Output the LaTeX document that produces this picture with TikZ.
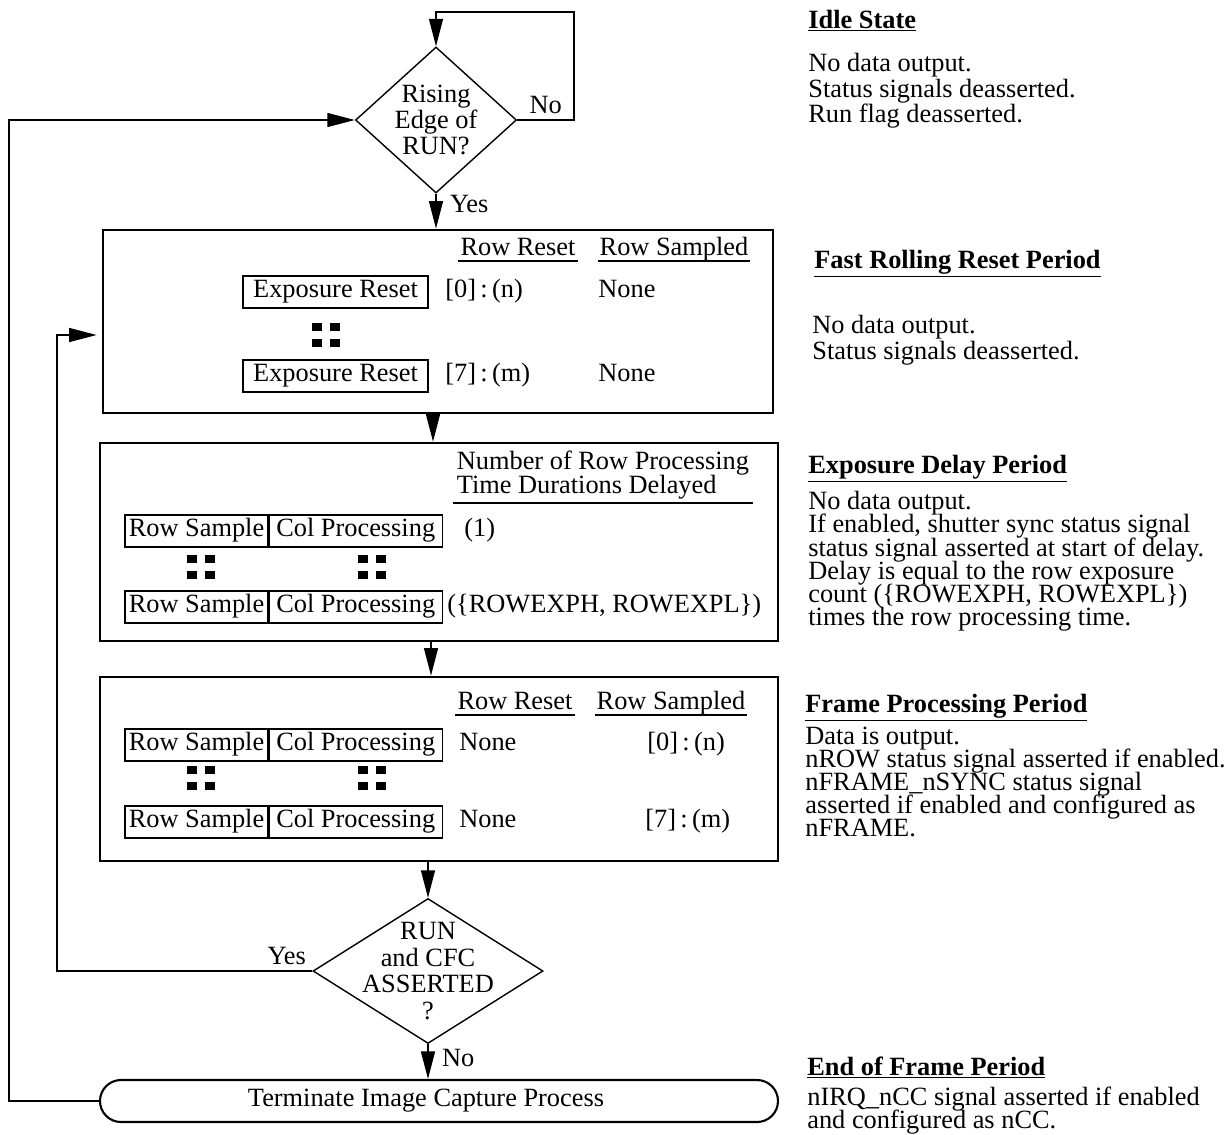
\documentclass[tikz,border=0pt]{standalone}
\usepackage{fontspec}
\setmainfont{Liberation Serif}
\usetikzlibrary{arrows.meta,shapes.geometric,positioning}
\newcommand{\notefont}[1]{\fontsize{15}{#1}\selectfont\lineskiplimit-100pt\relax}

\begin{document}
\begin{tikzpicture}[x=0.2mm, y=-0.2mm, >={Triangle[length=5.5mm,width=2.8mm]},
  font=\fontsize{15}{15}\selectfont,
  flow/.style={line width=0.8pt},
  period/.style={draw, line width=1.6pt, inner sep=0pt, minimum width=135.6mm},
  decision/.style={diamond, draw, line width=0.8pt, inner sep=0pt},
  cell/.style={draw, line width=0.7pt, inner sep=0pt, minimum height=6.4mm, text height=0.75em, text depth=0.15em},
  datum/.style={anchor=west, inner sep=0pt, text height=0.8em, text depth=0.15em},
  colhead/.style={inner sep=1pt, text height=0.7em, text depth=0.22em},
  headrule/.style={line width=1.3pt},
  term/.style={draw, rounded corners=4.2mm, line width=1.2pt},
  heading/.style={anchor=base west, inner sep=0pt, font=\fontsize{15}{15}\selectfont\bfseries},
  note/.style={anchor=north west, align=left, inner sep=0pt},
  pics/fourdots/.style={code={
    \foreach \dx in {-9,9} \foreach \dy in {-8,8} \fill (\dx-5,\dy-4) rectangle ++(10,8);}}]
  \useasboundingbox (0,0) rectangle (1231,1134);

  % flow chart
  \node[decision, minimum width=32.2mm, minimum height=29.2mm,
    label={[align=center]center:Rising\\Edge of\\RUN?}] (rise) at (436,120) {};
  \node[period, minimum width=134mm, minimum height=36.6mm] (reset) at (438,321.5) {};
  \node[period, minimum height=39.6mm] (delay) at (439,542) {};
  \node[period, minimum height=36.8mm] (frame) at (439,769) {};
  \node[decision, minimum width=46mm, minimum height=29mm,
    label={[align=center]center:RUN\\and CFC\\ASSERTED\\?}] (runq) at (428,971) {};
  \node[term, minimum width=135.6mm, minimum height=8.4mm,
    label={[xshift=-2.6mm]center:Terminate Image Capture Process}] (term) at (439,1101) {};

  \coordinate (loopc) at (574,12);
  \coordinate (outer) at (9,120);
  \coordinate (back) at (57,335);

  \draw[flow,->] (rise.east) -| node[pos=0.25,above]{No} (loopc) -| (rise.north);
  \draw[flow,->] (rise.south) -- node[right,pos=0.3,xshift=1.5mm]{Yes} (rise.south |- reset.north);
  \draw[flow,->] ([xshift=-1mm]reset.south) -- ([xshift=-1mm]reset.south |- delay.north);
  \draw[flow,->] ([xshift=-1.6mm]delay.south) -- ([xshift=-1.6mm]delay.south |- frame.north);
  \draw[flow,->] (frame.south -| runq) -- (runq.north);
  \draw[flow,->] (runq.south) -- node[right,pos=0.4,xshift=1.5mm]{No} (runq.south |- term.north);
  \draw[flow,->,shorten >=1mm] (runq.west) -- node[pos=0.1,above]{Yes} (runq.west -| back) -- (back) -- (back -| reset.west);
  \draw[flow,->] (term.west) -| (outer) -- (rise.west);

  % fast rolling reset
  \node[colhead] (hreset1) at (518,251) {Row Reset};
  \node[colhead] (hsamp1) at (674,251) {Row Sampled};
  \node[cell, minimum width=37mm] (exp1) at (335.5,292) {Exposure Reset};
  \node[datum] (rr1) at (445,292) {[0]\,:\,(n)};
  \node[datum] (rs1) at (598,292) {None};
  \pic at (326,335) {fourdots};
  \node[cell, minimum width=37mm] (exp2) at (335.5,376) {Exposure Reset};
  \node[datum] (rr2) at (445,376) {[7]\,:\,(m)};
  \node[datum] (rs2) at (598,376) {None};

  % exposure delay
  \node[note, inner sep=2pt, font=\notefont{13.6}] (hdelay) at (453,447) {Number of Row Processing\\Time Durations Delayed};
  \node[cell, minimum width=28.6mm] (samp1) at (196.5,531) {Row Sample};
  \node[cell, minimum width=34.6mm, right=0pt of samp1] (col1) {Col Processing};
  \node[datum] (cnt1) at (464,531) {(1)};
  \pic at (201,567) {fourdots};
  \pic at (372,567) {fourdots};
  \node[cell, minimum width=28.6mm] (samp2) at (196.5,607) {Row Sample};
  \node[cell, minimum width=34.6mm, right=0pt of samp2] (col2) {Col Processing};
  \node[datum] (cnt2) at (447,607) {(\{ROWEXPH, ROWEXPL\})};

  % frame processing
  \node[colhead] (hreset2) at (515,705) {Row Reset};
  \node[colhead] (hsamp2) at (671,705) {Row Sampled};
  \node[cell, minimum width=28.6mm] (samp3) at (196.5,745) {Row Sample};
  \node[cell, minimum width=34.6mm, right=0pt of samp3] (col3) {Col Processing};
  \node[datum] (fr1) at (459,745) {None};
  \node[datum] (fs1) at (647,745) {[0]\,:\,(n)};
  \pic at (201,778) {fourdots};
  \pic at (372,778) {fourdots};
  \node[cell, minimum width=28.6mm] (samp4) at (196.5,822) {Row Sample};
  \node[cell, minimum width=34.6mm, right=0pt of samp4] (col4) {Col Processing};
  \node[datum] (fr2) at (459,822) {None};
  \node[datum] (fs2) at (645,822) {[7]\,:\,(m)};

  \foreach \h in {hreset1,hsamp1,hdelay,hreset2,hsamp2}
    \draw[headrule] (\h.south west) -- (\h.south east);

  % period notes
  \node[heading] (idleh) at (808,28) {\underline{Idle State}};
  \node[note, font=\notefont{14.6}] (idleb) at (808,53) {No data output.\\Status signals deasserted.\\Run flag deasserted.};
  \node[heading] (fasth) at (814,268) {\underline{Fast Rolling Reset Period}};
  \node[note, font=\notefont{14.6}] (fastb) at (812,315) {No data output.\\Status signals deasserted.};
  \node[heading] (delayh) at (808,473) {\underline{Exposure Delay Period}};
  \node[note, font=\notefont{13.2}] (delayb) at (808,491) {No data output.\\If enabled, shutter sync status signal\\status signal asserted at start of delay.\\Delay is equal to the row exposure\\count (\{ROWEXPH, ROWEXPL\})\\times the row processing time.};
  \node[heading] (frameh) at (805,712) {\underline{Frame Processing Period}};
  \node[note, font=\notefont{13.1}] (frameb) at (805,727) {Data is output.\\nROW status signal asserted if enabled.\\nFRAME\_nSYNC status signal\\asserted if enabled and configured as\\nFRAME.};
  \node[heading] (endh) at (807,1075) {\underline{End of Frame Period}};
  \node[note, font=\notefont{13.1}] (endb) at (807,1087) {nIRQ\_nCC signal asserted if enabled\\and configured as nCC.};
\end{tikzpicture}
\end{document}
